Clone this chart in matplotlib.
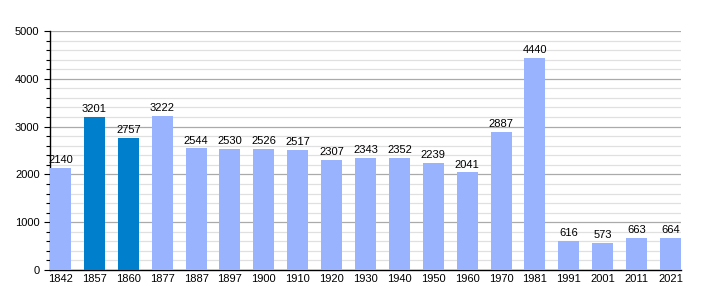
import matplotlib
matplotlib.use("Agg")
import matplotlib.pyplot as plt
from matplotlib.ticker import MultipleLocator

years = ["1842", "1857", "1860", "1877", "1887", "1897", "1900", "1910", "1920", "1930",
         "1940", "1950", "1960", "1970", "1981", "1991", "2001", "2011", "2021"]
population = [2140, 3201, 2757, 3222, 2544, 2530, 2526, 2517, 2307, 2343,
              2352, 2239, 2041, 2887, 4440, 616, 573, 663, 664]
highlight = ["1857", "1860"]

plt.rcParams['font.family'] = ['Liberation Sans', 'DejaVu Sans']

fig = plt.figure(figsize=(7.1, 3.0), dpi=100)
ax = fig.add_axes([50/710, 30/300, 631/710, 239/300])

w = 0.62
x = list(range(len(years)))
colors = ['#0080cc' if y in highlight else '#99b3ff' for y in years]
ax.bar(x, population, width=w, color=colors, zorder=3)
for xi, v in zip(x, population):
    ax.text(xi, v + 60, str(v), ha='center', va='bottom', fontsize=8, color='#000000', zorder=4)

ax.set_xlim(-w/2, len(years) - 1 + w/2)
ax.set_ylim(0, 5000)
ax.set_xticks(x)
ax.set_xticklabels(years, fontsize=8)
ax.yaxis.set_major_locator(MultipleLocator(1000))
ax.yaxis.set_minor_locator(MultipleLocator(200))
ax.tick_params(axis='y', which='major', length=4, labelsize=8, width=0.8)
ax.tick_params(axis='y', which='minor', length=3, width=0.8)
ax.tick_params(axis='x', length=0, labelsize=8, pad=3)
ax.grid(axis='y', which='major', color='#aaaaaa', linewidth=0.9, zorder=0)
ax.grid(axis='y', which='minor', color='#e0e0e0', linewidth=0.9, zorder=0)
for s in ['top', 'right']:
    ax.spines[s].set_visible(False)
ax.spines['left'].set_linewidth(1)
ax.spines['bottom'].set_linewidth(1)

fig.savefig("out.png", dpi=100)
